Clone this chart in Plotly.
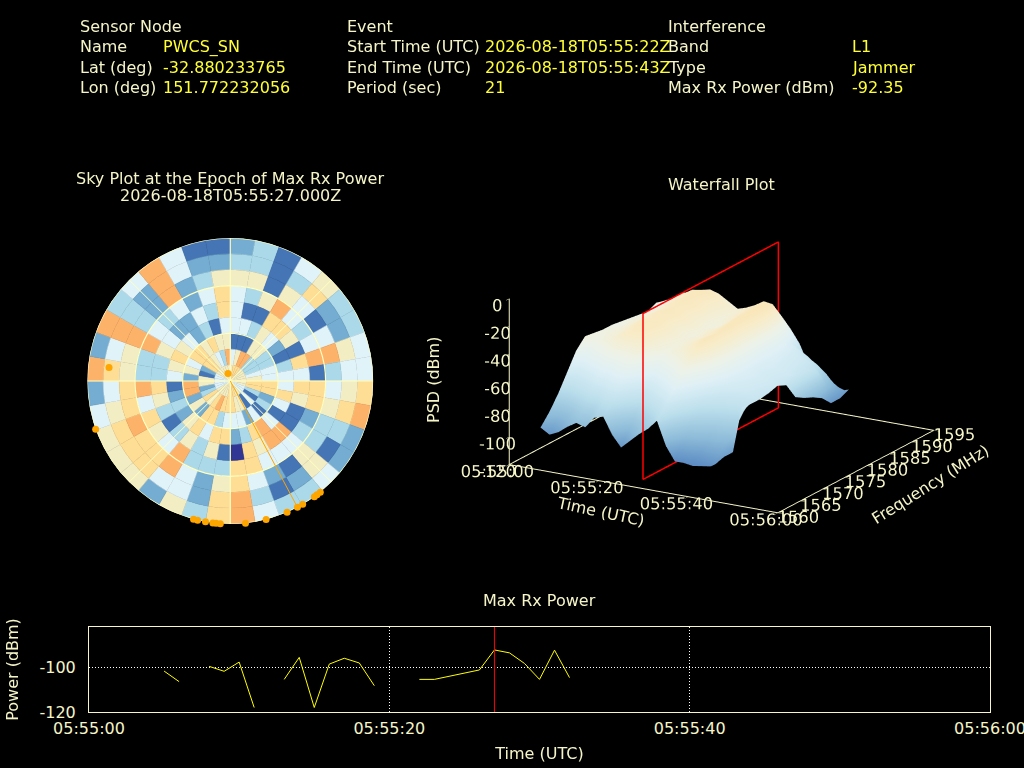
import plotly.graph_objects as go

CREAM = "#f5f5c8"
YELLOW = "#ffff33"
FONT = "DejaVu Sans"

# ---- header text ----
header_labels = [
    ("Sensor Node", 78, 26.5), ("Name", 78, 47), ("Lat (deg)", 78, 67), ("Lon (deg)", 78, 87),
    ("Event", 345, 26.5), ("Start Time (UTC)", 345, 47), ("End Time (UTC)", 345, 67), ("Period (sec)", 345, 87),
    ("Interference", 666, 26.5), ("Band", 666, 47), ("Type", 666, 67), ("Max Rx Power (dBm)", 666, 87),
]
header_values = [
    ("PWCS_SN", 161, 47), ("-32.880233765", 161, 67), ("151.772232056", 161, 87),
    ("2026-08-18T05:55:22Z", 483, 47), ("2026-08-18T05:55:43Z", 483, 67), ("21", 483, 87),
    ("L1", 850, 47), ("Jammer", 850, 67), ("-92.35", 850, 87),
]

# ---- sky plot: sectors (deg from north, clockwise), each list outer ring -> centre ----
sky_az = list(range(5, 360, 10))
sky_levels = [
    [2,3,5,4,4,4,1,4,5], [3,3,5,3,1,4,1,5,6], [1,1,1,5,1,3,1,7,6], [4,3,5,7,6,5,5,7,6],
    [5,6,4,4,6,4,5,3,5], [3,2,1,3,5,2,3,3,5], [3,2,4,4,1,1,3,3,5], [4,5,7,7,6,3,4,4,5],
    [4,4,3,1,4,4,4,5,5], [6,5,4,6,6,4,6,6,5], [7,6,5,6,5,6,6,6,5], [2,3,3,2,1,4,2,3,4],
    [2,1,3,3,1,1,3,1,4], [4,5,5,4,7,4,1,4,4], [3,2,1,4,7,7,4,1,5], [3,1,2,4,5,6,2,5,5],
    [4,3,4,6,6,3,4,5,6], [7,7,6,6,0,2,4,6,6], [6,6,5,3,1,6,4,6,6], [3,2,2,3,5,6,3,6,5],
    [5,4,4,3,3,4,6,7,5], [2,4,7,7,5,6,6,6,5], [5,6,6,4,3,5,2,5,5], [5,6,6,5,1,2,5,6,5],
    [5,6,7,6,3,3,2,3,4], [4,5,6,4,5,2,7,2,4], [2,4,6,7,6,1,7,5,4], [7,6,5,3,3,4,2,5,4],
    [2,4,5,3,3,5,5,1,4], [7,7,7,7,5,6,4,2,4], [3,3,3,4,4,5,6,6,5], [4,2,2,3,2,4,6,6,5],
    [7,7,7,4,2,2,5,5,5], [4,4,2,2,4,3,6,4,5], [1,2,3,4,3,1,5,3,5], [1,2,5,6,6,4,5,7,5],
]
ring_width = 10
level_colors = ["#313695", "#4575b4", "#74add1", "#abd9e9", "#e0f3f8", "#f3edc4", "#fedd95", "#fdb26a"]
sky_rings = [30, 60, 90]
sky_spokes = [0, 45, 90, 135, 180, 225, 270, 315]
sat_az = [343, 276.4, 250.3, 194.9, 193.2, 190, 187, 185.7, 184, 173.9, 165.5, 156.6, 152, 149.6, 144, 142.7, 141]
sat_r = [5, 76.8, 90, 90, 90, 90, 90, 90, 90, 90, 90, 90, 90, 90, 90, 90, 90]
sat_line_az = [152, 152]
sat_line_r = [0, 90]

# ---- waterfall ----
wf_time = [4, 6, 8, 10, 12, 14, 16, 18, 20, 22, 24, 26, 28, 30, 32, 34, 36, 38, 40, 42, 43]
wf_freq = [1563, 1565, 1567, 1569, 1571, 1573, 1575, 1577, 1579, 1581, 1583, 1585, 1587, 1589, 1591, 1593]
wf_psd = [
    [-96, -100, -97, -92, -88, -90, -82, -80, -92, -100, -94, -88, -83, -76, -93, -103, -103, -104, -103, -102, -100],
    [-88, -90, -88, -83, -79, -79, -74, -73, -82, -89, -85, -79, -74, -68, -83, -93, -94, -96, -95, -95, -98],
    [-78, -78, -75, -72, -68, -67, -63, -62, -71, -77, -72, -68, -64, -58, -72, -82, -85, -88, -88, -90, -98],
    [-66, -68, -65, -62, -57, -57, -53, -52, -60, -66, -63, -59, -53, -50, -61, -73, -77, -79, -80, -82, -69],
    [-54, -58, -54, -51, -48, -46, -46, -44, -52, -57, -53, -50, -46, -42, -53, -64, -70, -71, -72, -72, -70],
    [-47, -50, -47, -45, -41, -39, -39, -42, -46, -49, -46, -44, -40, -36, -46, -58, -64, -66, -67, -68, -70],
    [-48, -48, -46, -44, -40, -37, -38, -41, -45, -47, -45, -42, -38, -35, -44, -56, -62, -64, -66, -68, -69],
    [-49, -47, -46, -43, -38, -37, -37, -40, -44, -46, -44, -43, -39, -36, -43, -56, -61, -63, -65, -67, -67],
    [-49, -49, -45, -43, -39, -38, -38, -42, -45, -47, -45, -41, -38, -34, -44, -55, -62, -64, -66, -68, -70],
    [-50, -47, -46, -42, -38, -36, -37, -40, -43, -46, -44, -42, -37, -35, -45, -56, -62, -63, -65, -67, -82],
    [-51, -48, -45, -43, -39, -37, -38, -41, -44, -47, -46, -41, -36, -34, -44, -57, -61, -64, -66, -69, -86],
    [-52, -49, -46, -41, -37, -36, -37, -40, -44, -46, -44, -40, -36, -33, -43, -56, -62, -65, -67, -70, -89],
    [-53, -50, -46, -42, -38, -35, -38, -41, -43, -45, -43, -39, -35, -33, -44, -58, -63, -66, -68, -74, -93],
    [-50, -48, -44, -40, -36, -35, -36, -40, -42, -44, -42, -39, -35, -36, -48, -62, -66, -70, -74, -88, -100],
    [-52, -48, -44, -42, -40, -38, -40, -44, -48, -52, -50, -48, -46, -48, -56, -70, -74, -80, -84, -94, -100],
    [-55, -52, -52, -54, -50, -48, -50, -54, -60, -62, -60, -60, -58, -62, -70, -84, -90, -94, -96, -98, -97],
]
wf_ticks_time = [0, 20, 40, 60]
wf_ticklabels_time = ["05:55:00", "05:55:20", "05:55:40", "05:56:00"]
wf_ticks_freq = [1560, 1565, 1570, 1575, 1580, 1585, 1590, 1595]
wf_ticks_psd = [-120, -100, -80, -60, -40, -20, 0]
wf_ticklabels_psd = ["-120", "-100", "-80", "-60", "-40", "-20", "0"]
epoch_plane_t = [27, 27, 27, 27, 27]
epoch_plane_f = [1562.9, 1593.3, 1593.3, 1562.9, 1562.9]
epoch_plane_z = [-120, -120, 0, 0, -120]
border_t = [0, 0, 60]
border_f = [1560, 1595, 1595]
border_z = [-120, -120, -120]

# ---- max rx power ----
day = "2026-08-18 05:55:"
pw_sec = [5, 6, None, 8, 9, 10, 11, None, 13, 14, 15, 16, 17, 18, 19, None, 22, 23, 26, 27, 28, 29, 30, 31, 32]
pw_val = [-101.8, -106.5, None, -99.7, -101.9, -97.8, -118, None, -105.5, -95.7, -118, -98.7, -96.1, -98.2, -108.3,
          None, -105.5, -105.5, -101.3, -92.4, -93.7, -98.4, -105.5, -92.5, -104.7]
pw_time = [None if s is None else f"{day}{s:02d}" for s in pw_sec]
epoch = "2026-08-18 05:55:27"
pw_range_x = ["2026-08-18 05:55:00", "2026-08-18 05:56:00"]
pw_range_y = [-120, -82.2]
pw_ticks = ["2026-08-18 05:55:00", "2026-08-18 05:55:20", "2026-08-18 05:55:40", "2026-08-18 05:56:00"]

fig = go.Figure()

# sky cells
th, rr, base, col = [], [], [], []
for az, rings in zip(sky_az, sky_levels):
    for i, lv in enumerate(rings):
        th.append(az)
        rr.append(ring_width)
        base.append(80 - i * ring_width)
        col.append(level_colors[lv])
fig.add_trace(go.Barpolar(theta=th, r=rr, base=base, width=10, marker=dict(color=col, line=dict(width=0.5, color=col)),
                          subplot="polar", showlegend=False, hoverinfo="skip"))
for r0 in sky_rings:
    fig.add_trace(go.Scatterpolar(theta=list(range(0, 361, 5)), r=[r0] * 73, mode="lines",
                                  line=dict(color="#ffffc0", width=1.2), subplot="polar", showlegend=False))
for a in sky_spokes:
    fig.add_trace(go.Scatterpolar(theta=[a, a], r=[0, 90], mode="lines",
                                  line=dict(color="#ffffc0", width=1.2 if a % 90 == 0 else 1), subplot="polar", showlegend=False))
fig.add_trace(go.Scatterpolar(theta=sat_line_az, r=sat_line_r, mode="lines",
                              line=dict(color="#ffa500", width=1), subplot="polar", showlegend=False))
fig.add_trace(go.Scatterpolar(theta=sat_az, r=sat_r, mode="markers", cliponaxis=False,
                              marker=dict(color="#ffa500", size=7), subplot="polar", showlegend=False))

# waterfall
fig.add_trace(go.Surface(
    x=wf_time, y=wf_freq, z=wf_psd, cmin=-120, cmax=0, showscale=False, scene="scene",
    colorscale=[[0, "#4a78b4"], [0.142, "#5e8ec4"], [0.25, "#8ebcd9"], [0.375, "#bcdfec"], [0.5, "#dff0f6"],
                [0.583, "#edf2e8"], [0.667, "#f8ecca"], [0.725, "#fae6b8"], [1, "#fdae61"]],
    lighting=dict(ambient=1, diffuse=0, specular=0, roughness=1, fresnel=0),
    contours=dict(x=dict(highlight=False), y=dict(highlight=False), z=dict(highlight=False)),
    hoverinfo="skip"))
fig.add_trace(go.Scatter3d(x=epoch_plane_t, y=epoch_plane_f, z=epoch_plane_z, mode="lines",
                           line=dict(color="#ff0000", width=3), scene="scene", showlegend=False, hoverinfo="skip"))
fig.add_trace(go.Scatter3d(x=border_t, y=border_f, z=border_z, mode="lines",
                           line=dict(color=CREAM, width=2), scene="scene", showlegend=False, hoverinfo="skip"))

# power
fig.add_trace(go.Scatter(x=pw_time, y=pw_val, mode="lines", line=dict(color="#ffff00", width=1),
                         connectgaps=False, showlegend=False, xaxis="x", yaxis="y"))
fig.add_trace(go.Scatter(x=[epoch, epoch], y=pw_range_y, mode="lines", line=dict(color="#ff0000", width=1),
                         showlegend=False, xaxis="x", yaxis="y"))


def ann(text, x, y, color=CREAM, anchor="left", angle=0):
    return dict(text=text, x=x / 1024, y=1 - y / 768, xref="paper", yref="paper", showarrow=False, textangle=angle,
                xanchor=anchor, yanchor="middle", font=dict(family=FONT, size=16, color=color))


annots = [ann(t, x, y) for t, x, y in header_labels] + [ann(t, x, y, YELLOW) for t, x, y in header_values]
annots += [
    ann("Sky Plot at the Epoch of Max Rx Power", 230, 178, anchor="center"),
    ann("2026-08-18T05:55:27.000Z", 230, 196, anchor="center"),
    ann("Waterfall Plot", 721, 185, anchor="center"),
    ann("Max Rx Power", 539, 600, anchor="center"),
    ann("PSD (dBm)", 433, 380, anchor="center", angle=-90),
    ann("Time (UTC)", 600, 511, anchor="center", angle=12),
    ann("Frequency (MHz)", 930, 484, anchor="center", angle=-32),
]

axis3d = dict(showbackground=False, showgrid=False, zeroline=False, showline=True, linecolor=CREAM, linewidth=2,
              ticks="inside", tickcolor=CREAM, ticklen=6, tickangle=0, tickfont=dict(family=FONT, size=14, color=CREAM),
              showspikes=False, color=CREAM, title=dict(text=""))

fig.update_layout(
    template="none",
    width=1024, height=768, autosize=False, margin=dict(l=0, r=0, t=0, b=0),
    paper_bgcolor="#000000", plot_bgcolor="#000000",
    font=dict(family=FONT, size=16, color=CREAM), annotations=annots, showlegend=False,
    polar=dict(domain=dict(x=[(230.3 - 143) / 1024, (230.3 + 143) / 1024], y=[1 - (381 + 143) / 768, 1 - (381 - 143) / 768]),
               bgcolor="#000000", hole=0,
               radialaxis=dict(range=[0, 90], visible=False),
               angularaxis=dict(rotation=90, direction="clockwise", visible=False), barmode="overlay"),
    scene=dict(
        domain=dict(x=[0.4301, 0.9801], y=[0.2, 0.85]),
        aspectmode="manual", aspectratio=dict(x=1.246, y=1.241, z=0.699), bgcolor="#000000",
        camera=dict(projection=dict(type="orthographic"), eye=dict(x=0.814, y=-1.397, z=0.524),
                    center=dict(x=0, y=0, z=0), up=dict(x=0, y=0, z=1)),
        xaxis=dict(axis3d, range=[0, 60], tickvals=wf_ticks_time, ticktext=wf_ticklabels_time),
        yaxis=dict(axis3d, range=[1560, 1595], tickvals=wf_ticks_freq),
        zaxis=dict(axis3d, range=[-120, 0], tickvals=wf_ticks_psd, ticktext=wf_ticklabels_psd),
    ),
    xaxis=dict(domain=[89 / 1024, 990 / 1024], anchor="y", type="date", range=pw_range_x, tickvals=pw_ticks,
               tickformat="%H:%M:%S", showgrid=True, gridcolor="#ffffff", griddash="1px,2px", gridwidth=1,
               showline=True, linecolor=CREAM, mirror=True, ticks="", zeroline=False, automargin=False,
               tickfont=dict(family=FONT, size=16, color=CREAM), ticklabeloverflow="allow", ticklabelstandoff=2,
               title=dict(text="Time (UTC)", font=dict(family=FONT, size=16, color=CREAM), standoff=10)),
    yaxis=dict(domain=[1 - 712 / 768, 1 - 627 / 768], anchor="x", range=pw_range_y, tickvals=[-120, -100],
               ticktext=["-120", "-100"], ticklabelstandoff=9,
               showgrid=True, gridcolor="#ffffff", griddash="1px,2px", gridwidth=1,
               showline=True, linecolor=CREAM, mirror=True, ticks="", zeroline=False, automargin=False,
               tickfont=dict(family=FONT, size=16, color=CREAM),
               title=dict(text="Power (dBm)", font=dict(family=FONT, size=16, color=CREAM), standoff=16)),
)

fig.write_html("out.html", config=dict(displayModeBar=False),
               post_script="document.body.style.margin='0';document.body.style.background='#000';")
